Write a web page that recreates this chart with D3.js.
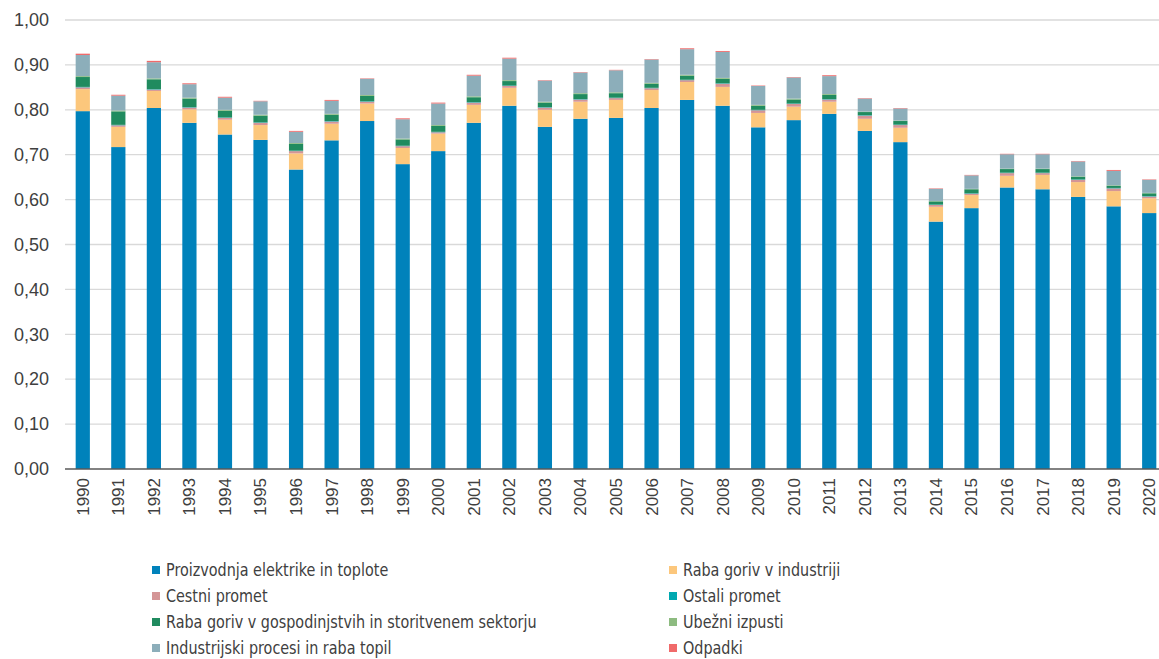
<!DOCTYPE html>
<html><head><meta charset="utf-8">
<script src="https://cdn.jsdelivr.net/npm/d3@7"></script>
<style>
html,body{margin:0;padding:0;background:#fff;}
svg{display:block;}
</style>
</head><body>
<svg id="chart" width="1159" height="659"></svg>
<script>
const years = ["1990","1991","1992","1993","1994","1995","1996","1997","1998","1999","2000","2001","2002","2003","2004","2005","2006","2007","2008","2009","2010","2011","2012","2013","2014","2015","2016","2017","2018","2019","2020"];
const seriesNames = ["Proizvodnja elektrike in toplote","Raba goriv v industriji","Cestni promet","Ostali promet","Raba goriv v gospodinjstvih in storitvenem sektorju","Ubežni izpusti","Industrijski procesi in raba topil","Odpadki"];
const seriesColors = ["#0082BB","#FCC77C","#D49596","#00A8B0","#208B5F","#8DBB80","#8CAEBA","#F06A6A"];
const elektrika = [0.797,0.717,0.804,0.771,0.745,0.733,0.667,0.732,0.775,0.679,0.708,0.771,0.809,0.762,0.780,0.782,0.804,0.822,0.809,0.761,0.777,0.791,0.753,0.728,0.551,0.581,0.627,0.623,0.606,0.585,0.570];
const industrija = [0.049,0.045,0.038,0.030,0.033,0.033,0.036,0.037,0.039,0.036,0.039,0.040,0.040,0.038,0.038,0.040,0.040,0.040,0.042,0.032,0.030,0.027,0.027,0.032,0.033,0.029,0.026,0.032,0.033,0.034,0.033];
const cestni = [0.004,0.0035,0.003,0.004,0.004,0.005,0.005,0.005,0.004,0.004,0.003,0.005,0.004,0.005,0.005,0.004,0.004,0.004,0.007,0.006,0.006,0.005,0.007,0.006,0.004,0.003,0.006,0.004,0.005,0.006,0.004];
const ostali = [0.001,0.001,0.001,0.001,0.001,0.001,0.001,0.001,0.001,0.001,0.001,0.001,0.001,0.001,0.001,0.001,0.001,0.001,0.001,0.001,0.001,0.001,0.001,0.001,0.001,0.001,0.001,0.001,0.001,0.001,0.001];
const gospodinjstva = [0.022,0.030,0.022,0.019,0.015,0.015,0.015,0.014,0.012,0.014,0.013,0.011,0.010,0.010,0.011,0.010,0.009,0.009,0.010,0.009,0.009,0.009,0.007,0.008,0.007,0.009,0.008,0.008,0.006,0.005,0.006];
const ubezni = [0.002,0.002,0.002,0.002,0.002,0.002,0.002,0.002,0.002,0.002,0.002,0.002,0.002,0.002,0.002,0.002,0.002,0.002,0.002,0.002,0.002,0.002,0.001,0.001,0.001,0.001,0.001,0.001,0.001,0.001,0.001];
const procesi = [0.047,0.033,0.036,0.030,0.027,0.030,0.025,0.029,0.036,0.043,0.048,0.046,0.048,0.047,0.046,0.049,0.052,0.057,0.058,0.042,0.047,0.040,0.029,0.027,0.027,0.030,0.032,0.032,0.033,0.032,0.029];
const odpadki = [0.003,0.002,0.003,0.002,0.002,0.001,0.002,0.002,0.001,0.002,0.002,0.002,0.002,0.001,0.001,0.001,0.001,0.002,0.002,0.001,0.001,0.002,0.001,0.001,0.001,0.001,0.001,0.001,0.001,0.002,0.001];
const yTicks = [0,0.1,0.2,0.3,0.4,0.5,0.6,0.7,0.8,0.9,1.0];

const seriesData = [elektrika,industrija,cestni,ostali,gospodinjstva,ubezni,procesi,odpadki];
const keys = seriesNames.map((d,i)=>"s"+i);
const table = years.map((yr,j)=>{const o={year:yr}; seriesData.forEach((arr,i)=>o["s"+i]=arr[j]); return o;});
const stacked = d3.stack().keys(keys)(table);

const svg = d3.select("#chart");
const plotLeft = 65, plotRight = 1167, plotTop = 20, plotBottom = 469;
const x = d3.scaleBand().domain(years).range([plotLeft,plotRight]).paddingInner(0.6).paddingOuter(0.3);
const y = d3.scaleLinear().domain([0,1]).range([plotBottom,plotTop]);

// gridlines
svg.append("g").selectAll("line").data(yTicks.slice(1)).join("line")
  .attr("x1",plotLeft).attr("x2",1159).attr("y1",d=>y(d)).attr("y2",d=>y(d))
  .attr("stroke","#D9D9D9").attr("stroke-width",1.3);

// bars
svg.append("g").selectAll("g").data(stacked).join("g")
  .attr("fill",(d,i)=>seriesColors[i])
  .selectAll("rect").data(d=>d).join("rect")
  .attr("x",d=>x(d.data.year)).attr("width",x.bandwidth())
  .attr("y",d=>y(d[1])).attr("height",d=>Math.max(0,y(d[0])-y(d[1])));

// baseline
svg.append("line").attr("x1",plotLeft).attr("x2",1159).attr("y1",plotBottom).attr("y2",plotBottom)
  .attr("stroke","#595959").attr("stroke-width",1.3);

// y axis
const yAxis = d3.axisLeft(y).tickValues(yTicks).tickSize(0).tickPadding(0)
  .tickFormat(d=>d3.format(".2f")(d).replace(".",","));
const yg = svg.append("g").attr("transform","translate(49,0)").call(yAxis);
yg.select(".domain").remove();
yg.selectAll("text").attr("font-family","Liberation Sans, Arial, sans-serif").attr("font-size",18).attr("fill","#404040");

// x axis
const xAxis = d3.axisBottom(x).tickSize(0).tickPadding(0);
const xg = svg.append("g").attr("transform",`translate(0,${plotBottom})`).call(xAxis);
xg.select(".domain").remove();
xg.selectAll("text").attr("font-family","Liberation Sans, Arial, sans-serif").attr("font-size",17).attr("fill","#404040")
  .attr("transform","rotate(-90)").attr("text-anchor","end").attr("dx","-9").attr("dy","0.35em").attr("y",0).attr("x",0);

// legend
const legPos = [[152,570],[669,570],[152,596],[669,596],[152,622],[669,622],[152,648],[669,648]];
const lg = svg.append("g").selectAll("g").data(seriesNames).join("g")
  .attr("transform",(d,i)=>`translate(${legPos[i][0]},${legPos[i][1]})`);
lg.append("rect").attr("x",0).attr("y",-4).attr("width",8).attr("height",8).attr("fill",(d,i)=>seriesColors[i]);
lg.append("text").attr("transform","translate(14,0) scale(0.94,1)").attr("dy","0.35em").text(d=>d)
  .attr("font-family","Liberation Sans Narrow, DejaVu Sans Condensed, Arial Narrow, sans-serif").attr("font-size",17).attr("fill","#404040");
</script>
</body></html>
